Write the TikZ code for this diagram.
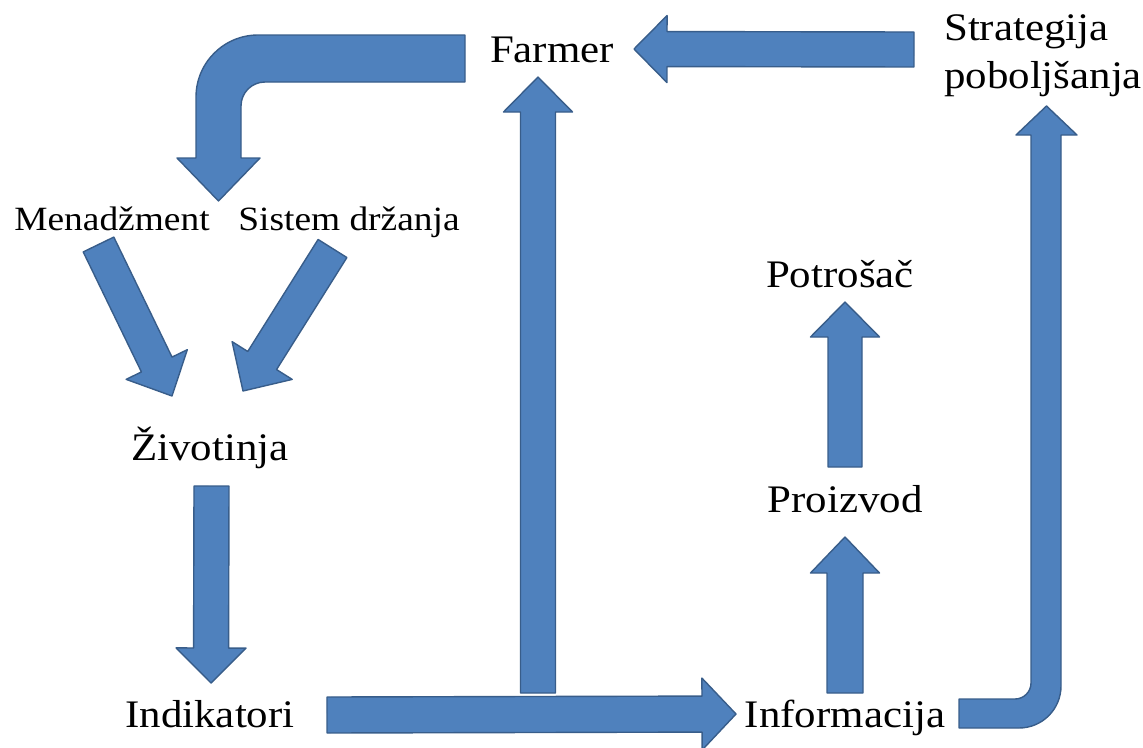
\documentclass[tikz,border=0pt]{standalone}
\usepackage{fontspec}
\setmainfont[FakeStretch=1.1]{Liberation Serif}
\usetikzlibrary{calc}
\definecolor{arrfill}{RGB}{79,129,189}
\definecolor{arrdraw}{RGB}{56,93,138}
\tikzset{
  barrow/.style={fill=arrfill, draw=arrdraw, line width=1.4pt, line join=round},
  biglbl/.style={inner sep=0pt, anchor=base, font=\fontsize{39}{48}\selectfont},
  smalllbl/.style={inner sep=0pt, anchor=base, font=\fontsize{34}{40}\selectfont},
}
% start, tip, half shaft width, half head width, head length
\newcommand\blockarr[5]{%
  \coordinate (tmpB) at ($(#2)!#5pt!(#1)$);
  \path[barrow] ($(#1)!#3pt!90:(#2)$) -- ($(tmpB)!#3pt!90:(#2)$) -- ($(tmpB)!#4pt!90:(#2)$) -- (#2)
     -- ($(tmpB)!#4pt!-90:(#2)$) -- ($(tmpB)!#3pt!-90:(#2)$) -- ($(#1)!#3pt!-90:(#2)$) -- cycle;
}
\begin{document}
\begin{tikzpicture}[x=1pt, y=-1pt]
\useasboundingbox (0,0) rectangle (1143,747);
% labels
\node[biglbl] (farmer) at (552,62) {Farmer};
\node[biglbl, align=left, anchor=base west] (strat) at (944,88) {Strategija\\poboljšanja};
\node[smalllbl] (men) at (112,230) {Menadžment};
\node[smalllbl] (sis) at (349,230) {Sistem držanja};
\node[biglbl] (potr) at (840,287) {Potrošač};
\node[biglbl] (ziv) at (210,460) {Životinja};
\node[biglbl] (proiz) at (845,512) {Proizvod};
\node[biglbl] (ind) at (210,727) {Indikatori};
\node[biglbl] (info) at (845,727) {Informacija};
% connector end points
\coordinate (s1) at (914,49.5);  \coordinate (t1) at (634,49);
\coordinate (s2) at (538,693);   \coordinate (t2) at (538,77);
\coordinate (s3) at (327,715);   \coordinate (t3) at (736,714);
\coordinate (s4) at (211.5,486); \coordinate (t4) at (211,683);
\coordinate (s5) at (98.5,244.5); \coordinate (t5) at (172,396);
\coordinate (s6) at (332.5,248.5); \coordinate (t6) at (243,391);
\coordinate (s7) at (845,693);   \coordinate (t7) at (845,537);
\coordinate (s8) at (845,467);   \coordinate (t8) at (845,302);
% straight block arrows
\blockarr{s1}{t1}{17.5}{33.5}{33}
\blockarr{s2}{t2}{17.5}{34.5}{35}
\blockarr{s4}{t4}{17.5}{35}{35}
\blockarr{s5}{t5}{17}{34}{35}
\blockarr{s6}{t6}{17}{35.5}{36}
\blockarr{s7}{t7}{18}{34.5}{36}
\blockarr{s8}{t8}{17}{34.5}{35}
\blockarr{s3}{t3}{18}{36}{34}
% bent arrow Farmer -> Menadzment / Sistem drzanja
\path[barrow] (465,35) -- (258,35) .. controls (223.8,35) and (196,62.8) .. (196,97)
  -- (196,158) -- (177,158) -- (218.5,201) -- (260,158) -- (241,158) -- (241,106)
  .. controls (241,92.7) and (251.7,82) .. (265,82) -- (465,82) -- cycle;
% bent arrow Informacija -> Strategija poboljsanja
\path[barrow] (959,699) -- (1015,699) .. controls (1023.8,699) and (1031,691.8) .. (1031,683)
  -- (1031,135) -- (1016,135) -- (1046.5,106) -- (1077,135) -- (1061,135) -- (1061,686)
  .. controls (1061,709.2) and (1042.2,728) .. (1019,728) -- (959,728) -- cycle;
\end{tikzpicture}
\end{document}
